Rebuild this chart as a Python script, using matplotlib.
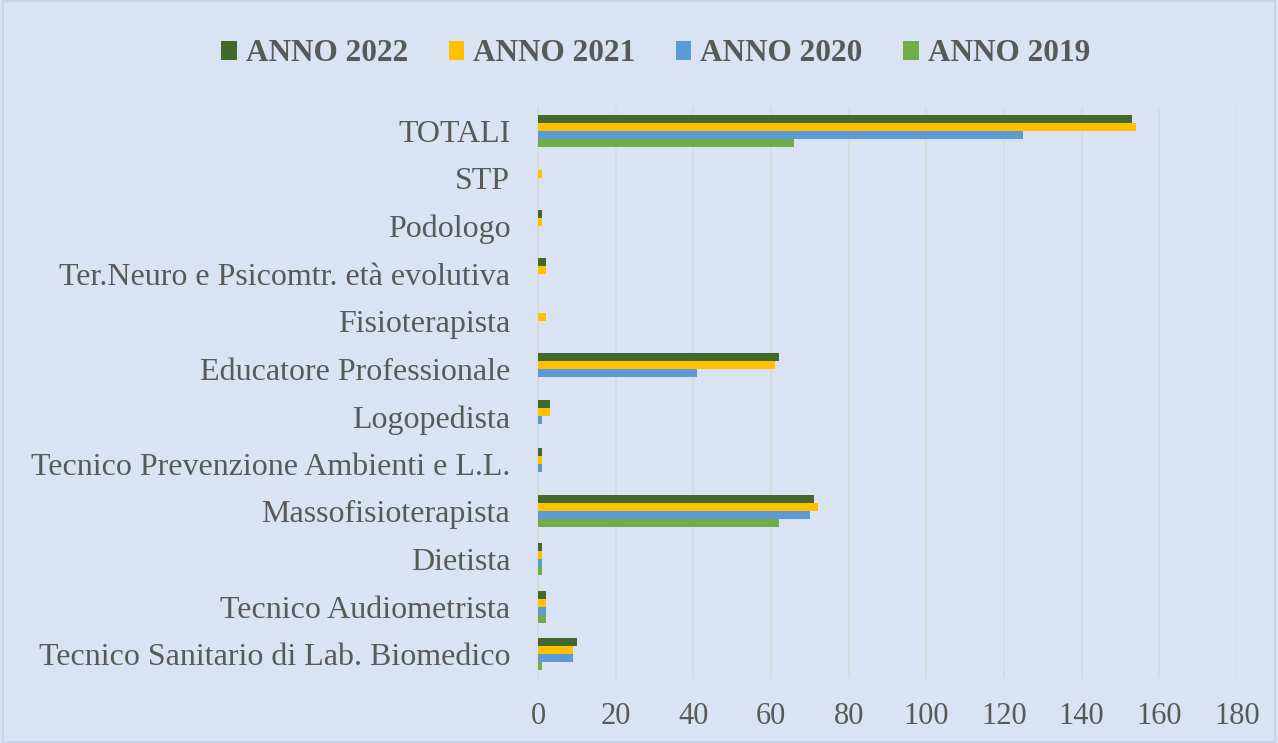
import matplotlib
matplotlib.use("Agg")
import matplotlib.pyplot as plt
import numpy as np

plt.rcParams['font.family'] = ['Liberation Serif', 'DejaVu Serif']

# categorie dal basso verso l'alto
categorie = ["Tecnico Sanitario di Lab. Biomedico", "Tecnico Audiometrista", "Dietista",
             "Massofisioterapista", "Tecnico Prevenzione Ambienti e L.L.", "Logopedista",
             "Educatore Professionale", "Fisioterapista", "Ter.Neuro e Psicomtr. età evolutiva",
             "Podologo", "STP", "TOTALI"]
anno_2022 = [10, 2, 1, 71, 1, 3, 62, 0, 2, 1, 0, 153]
anno_2021 = [9, 2, 1, 72, 1, 3, 61, 2, 2, 1, 1, 154]
anno_2020 = [9, 2, 1, 70, 1, 1, 41, 0, 0, 0, 0, 125]
anno_2019 = [1, 2, 1, 62, 0, 0, 0, 0, 0, 0, 0, 66]
serie = [("ANNO 2022", anno_2022, "#43682B"), ("ANNO 2021", anno_2021, "#FFC000"),
         ("ANNO 2020", anno_2020, "#5B9BD5"), ("ANNO 2019", anno_2019, "#70AD47")]
ticks = list(range(0, 181, 20))

bg = "#DAE3F3"
fig = plt.figure(figsize=(12.78, 7.43), dpi=100, facecolor=bg)
ax = fig.add_axes([538/1278, 1 - 678/743, (1237-538)/1278, (678-107)/743])
ax.set_facecolor(bg)

y = np.arange(len(categorie))
h = 0.168
for i, (nome, vals, col) in enumerate(serie):
    ax.barh(y + (1.5 - i) * h, vals, height=h, color=col, label=nome, zorder=3)

ax.set_xlim(0, 180)
ax.set_ylim(-0.5, len(categorie) - 0.5)
ax.set_xticks(ticks)
ax.set_yticks(y)
ax.set_yticklabels(categorie, fontsize=23)
ax.tick_params(axis='both', length=0, labelcolor="#595959")
ax.tick_params(axis='x', pad=17, labelsize=22)
ax.tick_params(axis='y', pad=20)
ax.grid(axis='x', color="#D9D9D9", linewidth=1.2, zorder=0)
for s in ['top', 'right', 'bottom']:
    ax.spines[s].set_visible(False)
ax.spines['left'].set_color("#D9D9D9")
ax.spines['left'].set_linewidth(1.2)

leg = fig.legend(loc='upper center', bbox_to_anchor=(0.513, 0.985), ncol=4, frameon=False,
                 prop={'size': 22.5, 'weight': 'bold'}, handlelength=0.5, handleheight=0.55,
                 handletextpad=0.28, columnspacing=1.3)
for t in leg.get_texts():
    t.set_color("#595959")

fig.patches.append(plt.Rectangle((0.002, 0.002), 0.996, 0.996, transform=fig.transFigure,
                                 fill=False, edgecolor="#C9D3E6", linewidth=1.5))

fig.savefig("out.png", dpi=100, facecolor=bg)
